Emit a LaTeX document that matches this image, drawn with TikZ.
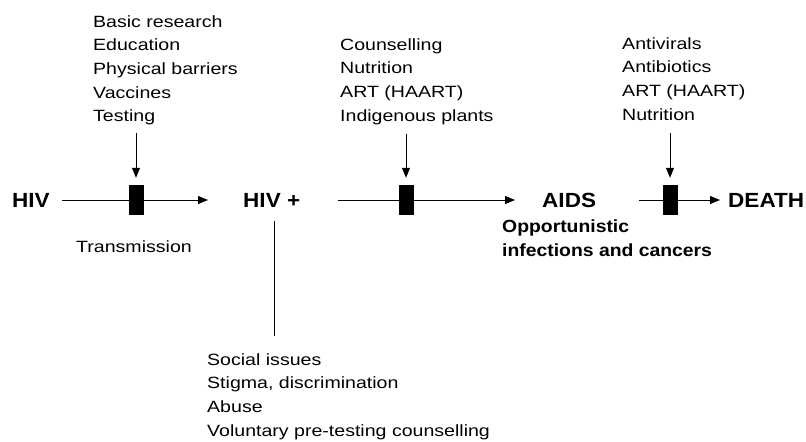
\documentclass[tikz,border=0pt]{standalone}
\usepackage{fontspec}
\setmainfont[FakeStretch=1.2]{Liberation Sans}
\newfontfamily\headfont[FakeStretch=1.1]{Liberation Sans}
\usepackage{tikz}
\usetikzlibrary{arrows.meta}

\begin{document}
\begin{tikzpicture}[x=1bp, y=-1bp,
      st/.style={font=\headfont\bfseries\fontsize{20.5bp}{24bp}\selectfont,
                 inner sep=0pt, anchor=west},
      ls/.style={font=\fontsize{16.3bp}{23.7bp}\selectfont,
                 align=left, inner sep=0pt, anchor=north west},
      blk/.style={fill=black, draw=none, inner sep=0pt,
                  minimum width=15bp, minimum height=30bp},
      ln/.style={line width=0.9bp},
      ar/.style={-{Triangle[length=10bp,width=8bp]}, line width=0.9bp},
    ]
      \useasboundingbox (0,0) rectangle (806,442);
      % stages
      \node[st] (hiv)   at (12,200)  {HIV};
      \node[st] (hivp)  at (243,200) {HIV +};
      \node[st] (aids)  at (542,200) {AIDS};
      \node[st] (death) at (728,200) {DEATH};
      % interventions
      \node[ls] (t1) at (93,15)   {Basic research\\Education\\Physical barriers\\Vaccines\\Testing};
      \node[ls] (t2) at (340,38)  {Counselling\\Nutrition\\ART (HAART)\\Indigenous plants};
      \node[ls] (t3) at (622,37)  {Antivirals\\Antibiotics\\ART (HAART)\\Nutrition};
      \node[ls] (soc) at (207,353) {Social issues\\Stigma, discrimination\\Abuse\\Voluntary pre-testing counselling};
      \node[ls] (tr) at (76,240.6) {Transmission};
      \node[ls, font=\headfont\bfseries\fontsize{17.6bp}{24bp}\selectfont]
            (oi) at (502,220) {Opportunistic\\infections and cancers};
      % flow
      \draw[ar, shorten <=12bp, shorten >=35bp] (hiv) -- (hivp);
      \draw[ar, shorten <=38bp, shorten >=27bp] (hivp) -- (aids);
      \draw[ar, shorten <=43bp, shorten >=8bp] (aids) -- (death);
      \node[blk] (b1) at (136,200) {};
      \node[blk] (b2) at (406,200) {};
      \node[blk] (b3) at (670,200) {};
      \draw[ar, shorten <=8bp, shorten >=7bp] (t1.south -| b1) -- (b1.north);
      \draw[ar, shorten <=9bp, shorten >=7bp] (t2.south -| b2) -- (b2.north);
      \draw[ar, shorten <=13bp, shorten >=7bp] (t3.south -| b3) -- (b3.north);
      \draw[ln, shorten <=14bp, shorten >=17bp]
            ([xshift=2.5bp]hivp.south) -- ([xshift=2.5bp]hivp.south |- soc.north);
    \end{tikzpicture}
\end{document}
